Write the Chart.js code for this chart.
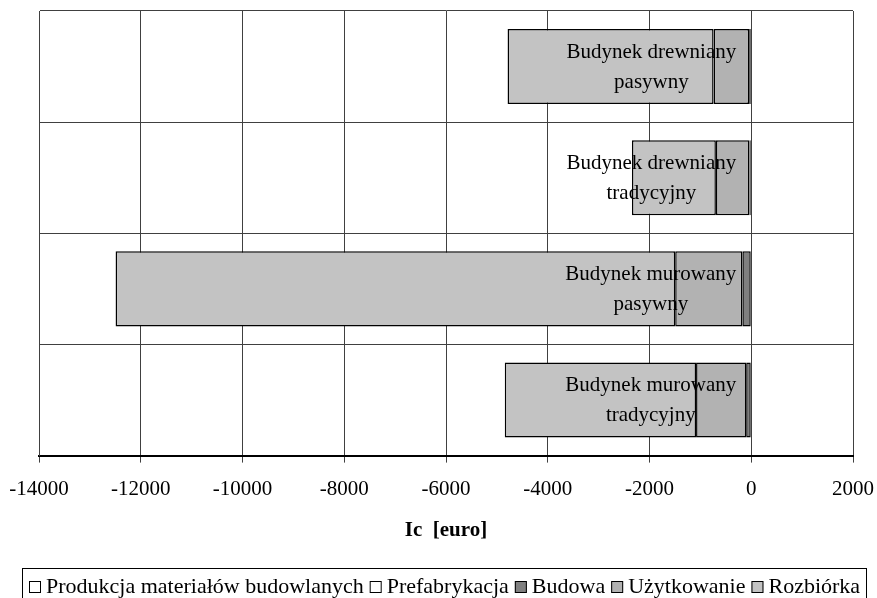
<!DOCTYPE html>
<html lang="pl">
<head>
<meta charset="UTF-8">
<title>Ic [euro]</title>
<script src="https://cdn.jsdelivr.net/npm/chart.js"></script>
<style>
  html, body { margin: 0; padding: 0; background: #fff; overflow: hidden; }
</style>
</head>
<body>
<canvas id="myChart" width="877" height="598"></canvas>
<script>
// dane (euro), od gory do dolu
const kategorie = [
  ['Budynek drewniany', 'pasywny'],
  ['Budynek drewniany', 'tradycyjny'],
  ['Budynek murowany', 'pasywny'],
  ['Budynek murowany', 'tradycyjny']
];
const produkcja     = [0, 0, 0, 0];
const prefabrykacja = [0, 0, 0, 0];
const budowa        = [-40, -35, -175, -100];
const uzytkowanie   = [-700, -660, -1320, -985];
const rozbiorka     = [-4050, -1650, -11000, -3760];

const osMin = -14000, osMax = 2000, krok = 2000;

const czcionka = '"Liberation Serif", "Times New Roman", serif';

// podpisy kategorii rysowane przy osi w punkcie 0 (jak w Excelu)
const etykietyKategorii = {
  id: 'etykietyKategorii',
  afterDatasetsDraw(chart) {
    const ctx = chart.ctx;
    const x0 = chart.scales.x.getPixelForValue(0);
    const sy = chart.scales.y;
    ctx.save();
    ctx.font = '21px ' + czcionka;
    ctx.fillStyle = '#000';
    ctx.textAlign = 'center';
    ctx.textBaseline = 'alphabetic';
    kategorie.forEach((linie, i) => {
      const cy = sy.getPixelForValue(i);
      const szer = Math.max(...linie.map(t => ctx.measureText(t).width));
      const cx = x0 - 15 - szer / 2;
      ctx.fillText(linie[0], cx, cy - 9);
      ctx.fillText(linie[1], cx, cy + 21);
    });
    ctx.restore();
  }
};

// legenda w ramce na dole
const legenda = {
  id: 'legenda',
  afterDraw(chart) {
    const ctx = chart.ctx;
    const ds = chart.data.datasets;
    const box = 12, odstep = 5, przerwa = 6;
    ctx.save();
    ctx.font = '22px ' + czcionka;
    let total = 0;
    ds.forEach((d, i) => {
      total += box + odstep + ctx.measureText(d.label).width;
      if (i < ds.length - 1) total += przerwa;
    });
    let x = Math.round(444.5 - total / 2);
    ctx.lineWidth = 1;
    ctx.strokeStyle = '#000';
    ctx.strokeRect(22.5, 568.5, 844, 45);
    ctx.textBaseline = 'alphabetic';
    ctx.textAlign = 'left';
    ds.forEach(d => {
      ctx.fillStyle = d.backgroundColor;
      ctx.fillRect(x, 581, box, box);
      ctx.strokeRect(x + 0.5, 581.5, box - 1, box - 1);
      ctx.fillStyle = '#000';
      ctx.fillText(d.label, x + box + odstep, 593);
      x += box + odstep + ctx.measureText(d.label).width + przerwa;
    });
    ctx.restore();
  }
};

function seria(nazwa, dane, kolor) {
  return {
    label: nazwa,
    data: dane,
    backgroundColor: kolor,
    borderColor: '#000',
    borderWidth: 1.5,
    borderSkipped: false,
    barPercentage: 0.675,
    categoryPercentage: 1
  };
}

const config = {
  type: 'bar',
  data: {
    labels: kategorie,
    datasets: [
      seria('Produkcja materiałów budowlanych', produkcja, '#ffffff'),
      seria('Prefabrykacja', prefabrykacja, '#ffffff'),
      seria('Budowa', budowa, '#808080'),
      seria('Użytkowanie', uzytkowanie, '#b2b2b2'),
      seria('Rozbiórka', rozbiorka, '#c3c3c3')
    ]
  },
  options: {
    responsive: false,
    animation: false,
    indexAxis: 'y',
    layout: { padding: { left: 39, right: 24, top: 11, bottom: 55 } },
    plugins: {
      legend: { display: false },
      tooltip: { enabled: false }
    },
    scales: {
      x: {
        stacked: true,
        min: osMin,
        max: osMax,
        // marginesy na podpisy skrajne ustawia layout.padding
        afterFit(scale) {
          scale.paddingLeft = 0;
          scale.paddingRight = 0;
        },
        ticks: {
          stepSize: krok,
          color: '#000',
          padding: 14,
          font: { family: czcionka, size: 21 },
          callback: v => String(v)
        },
        grid: { color: '#404040', lineWidth: 1, tickLength: 7, tickColor: '#404040' },
        border: { color: '#000', width: 2 },
        title: {
          display: true,
          text: 'Ic  [euro]',
          color: '#000',
          font: { family: czcionka, size: 21, weight: 'bold' },
          padding: { top: 2, bottom: 0 }
        }
      },
      y: {
        stacked: true,
        ticks: { display: false },
        grid: { color: '#404040', lineWidth: 1, drawTicks: false, offset: true },
        border: { color: '#404040', width: 1 }
      }
    }
  },
  plugins: [etykietyKategorii, legenda]
};

let myChart = new Chart(document.getElementById('myChart'), config);
</script>
</body>
</html>
